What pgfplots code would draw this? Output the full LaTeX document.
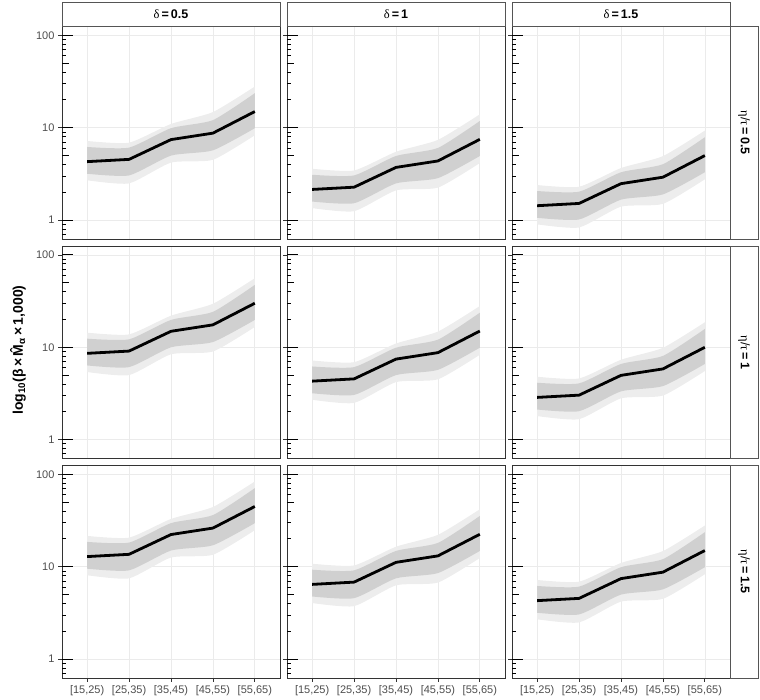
\documentclass[border=0pt]{standalone}
\usepackage{fontspec}
\setmainfont{Liberation Sans}
\newfontfamily\symf{Liberation Serif}
\usepackage{pgfplots}
\pgfplotsset{compat=1.18}
\usepackage{pgfplotstable}
\usepgfplotslibrary{fillbetween}

\definecolor{gridc}{HTML}{EBEBEB}
\definecolor{frame}{HTML}{333333}
\definecolor{stripc}{HTML}{555555}
\definecolor{labc}{HTML}{4D4D4D}
\definecolor{core}{HTML}{D0D0D0}
\definecolor{faint}{HTML}{EDEDED}

% columns: x mid lo1 hi1 lo2 hi2  (lo1/hi1 = dense band, lo2/hi2 = faint band)
\pgfplotstableread{
x mid lo1 hi1 lo2 hi2
1 4.3 3.18 6.2 2.7 7.2
2 4.55 3.05 6.1 2.5 6.9
3 7.45 5.0 9.9 4.2 11.0
4 8.75 5.7 12.1 4.5 14.8
5 15 9.9 23.7 8.3 28
}\tA
\pgfplotstableread{
x mid lo1 hi1 lo2 hi2
1 2.15 1.59 3.1 1.35 3.6
2 2.275 1.525 3.05 1.25 3.45
3 3.725 2.5 4.95 2.1 5.5
4 4.375 2.85 6.05 2.25 7.4
5 7.5 4.95 11.85 4.15 14
}\tB
\pgfplotstableread{
x mid lo1 hi1 lo2 hi2
1 1.433 1.06 2.067 0.9 2.4
2 1.517 1.017 2.033 0.833 2.3
3 2.483 1.667 3.3 1.4 3.667
4 2.917 1.9 4.033 1.5 4.933
5 5 3.3 7.9 2.767 9.333
}\tC
\pgfplotstableread{
x mid lo1 hi1 lo2 hi2
1 8.6 6.36 12.4 5.4 14.4
2 9.1 6.1 12.2 5.0 13.8
3 14.9 10.0 19.8 8.4 22.0
4 17.5 11.4 24.2 9.0 29.6
5 30 19.8 47.4 16.6 56
}\tD
\pgfplotstableread{
x mid lo1 hi1 lo2 hi2
1 4.3 3.18 6.2 2.7 7.2
2 4.55 3.05 6.1 2.5 6.9
3 7.45 5.0 9.9 4.2 11.0
4 8.75 5.7 12.1 4.5 14.8
5 15 9.9 23.7 8.3 28
}\tE
\pgfplotstableread{
x mid lo1 hi1 lo2 hi2
1 2.867 2.12 4.133 1.8 4.8
2 3.033 2.033 4.067 1.667 4.6
3 4.967 3.333 6.6 2.8 7.333
4 5.833 3.8 8.067 3.0 9.867
5 10 6.6 15.8 5.533 18.667
}\tF
\pgfplotstableread{
x mid lo1 hi1 lo2 hi2
1 12.9 9.54 18.6 8.1 21.6
2 13.65 9.15 18.3 7.5 20.7
3 22.35 15.0 29.7 12.6 33.0
4 26.25 17.1 36.3 13.5 44.4
5 45 29.7 71.1 24.9 84
}\tG
\pgfplotstableread{
x mid lo1 hi1 lo2 hi2
1 6.45 4.77 9.3 4.05 10.8
2 6.825 4.575 9.15 3.75 10.35
3 11.175 7.5 14.85 6.3 16.5
4 13.125 8.55 18.15 6.75 22.2
5 22.5 14.85 35.55 12.45 42
}\tH
\pgfplotstableread{
x mid lo1 hi1 lo2 hi2
1 4.3 3.18 6.2 2.7 7.2
2 4.55 3.05 6.1 2.5 6.9
3 7.45 5.0 9.9 4.2 11.0
4 8.75 5.7 12.1 4.5 14.8
5 15 9.9 23.7 8.3 28
}\tI

% #1 left, #2 bottom, #3 table, #4 x tick labels, #5 y tick labels, #6 x tick colour
\newcommand{\panel}[6]{%
  \begin{axis}[anchor=south west, at={(#1pt,#2pt)}, scale only axis,
    width=218pt, height=212.5pt,
    ymode=log, ymin=0.625, ymax=125, xmin=0.4, xmax=5.6,
    xtick={1,2,3,4,5}, ytick={1,10,100},
    xticklabels={#4}, yticklabels={#5},
    xmajorgrids, ymajorgrids,
    major grid style={draw=gridc, line width=0.7pt},
    axis line style={draw=frame, line width=0.9pt},
    tick align=outside, major tick length=4pt,
    xtick style={draw=#6, line width=0.8pt},
    ytick style={draw=frame, line width=0.8pt},
    minor y tick style={draw=none},
    xtick pos=bottom, ytick pos=left,
    tick label style={font=\fontsize{11}{13}\selectfont, text=labc}]
    \addplot[name path=h2, draw=none, smooth, tension=0.35] table[x=x, y=hi2]{#3};
    \addplot[name path=l2, draw=none, smooth, tension=0.35] table[x=x, y=lo2]{#3};
    \addplot[fill=faint, draw=none] fill between[of=h2 and l2];
    \addplot[name path=h1, draw=none, smooth, tension=0.35] table[x=x, y=hi1]{#3};
    \addplot[name path=l1, draw=none, smooth, tension=0.35] table[x=x, y=lo1]{#3};
    \addplot[fill=core, draw=none] fill between[of=h1 and l1];
    \addplot[black, line width=2.8pt, line join=round] table[x=x, y=mid]{#3};
  \end{axis}
  \begin{axis}[anchor=south west, at={(#1pt,#2pt)}, scale only axis,
    width=218pt, height=212.5pt,
    ymode=log, ymin=0.625, ymax=125, xmin=0.4, xmax=5.6,
    axis line style={draw=none}, xtick=\empty,
    ytick={1,10,100}, yticklabels={},
    minor ytick={0.7,0.8,0.9,2,3,4,6,7,8,9,20,30,40,60,70,80,90},
    tick align=inside, major tick length=11pt, minor tick length=4pt,
    ytick pos=left, ytick style={draw=black, line width=1pt}]
  \end{axis}
  \begin{axis}[anchor=south west, at={(#1pt,#2pt)}, scale only axis,
    width=218pt, height=212.5pt,
    ymode=log, ymin=0.625, ymax=125, xmin=0.4, xmax=5.6,
    axis line style={draw=none}, xtick=\empty,
    ytick={5,50}, yticklabels={},
    tick align=inside, major tick length=7pt,
    minor y tick style={draw=none},
    ytick pos=left, ytick style={draw=black, line width=1pt}]
  \end{axis}
}

\begin{document}
\begin{tikzpicture}
\panel{62}{460}{\tA}{}{1,10,100}{none}
\panel{287}{460}{\tB}{}{}{none}
\panel{512}{460}{\tC}{}{}{none}
\panel{62}{240.5}{\tD}{}{1,10,100}{none}
\panel{287}{240.5}{\tE}{}{}{none}
\panel{512}{240.5}{\tF}{}{}{none}
\panel{62}{21}{\tG}{{[15,25)},{[25,35)},{[35,45)},{[45,55)},{[55,65)}}{1,10,100}{frame}
\panel{287}{21}{\tH}{{[15,25)},{[25,35)},{[35,45)},{[45,55)},{[55,65)}}{}{frame}
\panel{512}{21}{\tI}{{[15,25)},{[25,35)},{[35,45)},{[45,55)},{[55,65)}}{}{frame}

% top strips
\foreach \xl/\lab in {62/0.5, 287/1, 512/1.5}{
  \draw[stripc, fill=white, line width=0.9pt] (\xl pt,672.5pt) rectangle ({\xl pt+218pt},697pt);
  \node[font=\fontsize{12.5}{14}\selectfont] at ({\xl pt+109pt},684.75pt) {{\symf δ}\,\textbf{=\,\lab}};
}
% right strips
\foreach \yb/\lab in {460/0.5, 240.5/1, 21/1.5}{
  \draw[stripc, fill=white, line width=0.9pt] (730pt,\yb pt) rectangle (758pt,{\yb pt+212.5pt});
  \node[rotate=-90, font=\fontsize{12.5}{14}\selectfont] at (744pt,{\yb pt+106.25pt}) {{\symf η}/{\symf τ}\,\textbf{=\,\lab}};
}
% y label
\node[rotate=90, font=\bfseries\fontsize{14}{16}\selectfont] at (18pt,349pt)
  {log\textsubscript{10}(β\,×\,M̂\textsubscript{α}\,×\,1,000)};
\pgfresetboundingbox
\useasboundingbox (0pt,0pt) rectangle (760pt,699pt);
\end{tikzpicture}
\end{document}
